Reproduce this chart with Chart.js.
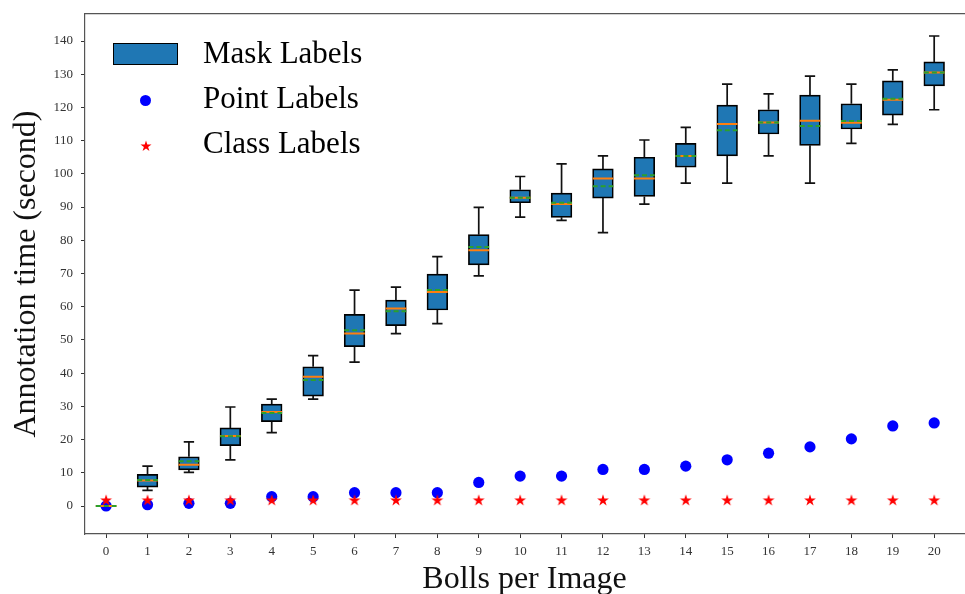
<!DOCTYPE html>
<html><head><meta charset="utf-8">
<script src="https://cdn.jsdelivr.net/npm/chart.js@4.4.0/dist/chart.umd.min.js"></script>
<style>
html,body{margin:0;padding:0;background:#fff;overflow:hidden;width:965px;height:594px}
#wrap{position:relative;width:965px;height:594px;overflow:hidden;background:#fff}
#c{position:absolute;left:0;top:0}
.lg{position:absolute;font-family:"Liberation Serif","Times New Roman",serif;font-size:31px;line-height:31px;color:#000;white-space:nowrap}
</style></head><body>
<div id="wrap">
<canvas id="c" width="972" height="594"></canvas>
<div style="position:absolute;left:113px;top:43px;width:65px;height:22px;background:#1f77b4;border:1px solid #000;box-sizing:border-box"></div>
<div class="lg" style="left:203px;top:37px">Mask Labels</div>
<div style="position:absolute;left:140px;top:94.5px;width:11px;height:11px;border-radius:50%;background:#0000ff"></div>
<div class="lg" style="left:203px;top:82px">Point Labels</div>
<svg style="position:absolute;left:139.7px;top:139.5px" width="12" height="12" viewBox="-6 -6 12 12"><polygon id="lstar" fill="#ff0000"/></svg>
<div class="lg" style="left:203px;top:127px">Class Labels</div>
</div>
<script>
const categories = ['0','1','2','3','4','5','6','7','8','9','10','11','12','13','14','15','16','17','18','19','20'];
const yTicks = [0,10,20,30,40,50,60,70,80,90,100,110,120,130,140];
const whiskerLow  = [0, 4.7, 10.1, 13.9, 22.1, 32.2, 43.3, 51.9, 54.9, 69.3, 87.0, 86.0, 82.3, 90.9, 97.2, 97.2, 105.4, 97.2, 109.2, 114.9, 119.3];
const q1          = [0, 5.7, 10.9, 18.2, 25.4, 33.1, 48.0, 54.3, 59.0, 72.6, 91.3, 86.9, 92.7, 93.2, 102.0, 105.4, 112.0, 108.6, 113.5, 117.7, 126.5];
const median      = [0, 7.7, 12.4, 21.1, 28.3, 38.9, 51.9, 59.5, 64.4, 77.0, 92.8, 90.9, 98.6, 98.6, 105.4, 115.0, 115.5, 116.0, 115.4, 122.3, 130.5];
const mean        = [0, 7.8, 13.5, 21.0, 28.0, 37.9, 52.9, 58.6, 65.0, 78.0, 92.8, 91.3, 96.3, 99.6, 105.4, 113.1, 115.5, 114.4, 115.9, 122.6, 130.5];
const q3          = [0, 9.5, 14.8, 23.5, 30.7, 41.9, 57.7, 62.0, 69.8, 81.7, 95.2, 94.2, 101.5, 105.0, 109.2, 120.7, 119.3, 123.7, 121.1, 128.0, 133.7];
const whiskerHigh = [0, 12.0, 19.3, 29.8, 32.2, 45.3, 65.0, 65.9, 75.1, 89.9, 99.2, 103.0, 105.4, 110.2, 114.0, 127.0, 124.1, 129.4, 127.0, 131.3, 141.5];
const pointLabels = [0, 0.4, 0.8, 0.8, 2.8, 2.8, 4.0, 4.0, 4.0, 7.1, 9.0, 9.0, 11.0, 11.0, 12.0, 13.9, 15.9, 17.8, 20.2, 24.1, 25.0];
const classLabels = [1.8, 1.8, 1.8, 1.8, 1.8, 1.8, 1.8, 1.8, 1.8, 1.8, 1.8, 1.8, 1.8, 1.8, 1.8, 1.8, 1.8, 1.8, 1.8, 1.8, 1.8];

function starPts(R, cx, cy) {
  const r = R * 0.381966, pts = [];
  for (let k = 0; k < 10; k++) {
    const a = -Math.PI / 2 + k * Math.PI / 5, rr = k % 2 ? r : R;
    pts.push([cx + rr * Math.cos(a), cy + rr * Math.sin(a)]);
  }
  return pts;
}
document.getElementById('lstar').setAttribute('points', starPts(5.8, 0, 0.4).map(p => p.join(',')).join(' '));
const starCanvas = document.createElement('canvas');
starCanvas.width = 14; starCanvas.height = 14;
(function () {
  const g = starCanvas.getContext('2d');
  g.fillStyle = '#ff0000';
  g.beginPath();
  starPts(6.2, 7, 7.5).forEach((p, k) => k ? g.lineTo(p[0], p[1]) : g.moveTo(p[0], p[1]));
  g.closePath(); g.fill();
})();

const X = categories.map(Number);
const boxData = X.map((x, i) => ({x, y: [q1[i], q3[i]]}));
const whiskerData = [], capData = [], medData = [], meanData = [];
X.forEach((x, i) => {
  whiskerData.push({x, y: whiskerHigh[i]}, {x, y: q3[i]}, {x, y: null}, {x, y: q1[i]}, {x, y: whiskerLow[i]}, {x, y: null});
  capData.push({x: x - 0.125, y: whiskerHigh[i]}, {x: x + 0.125, y: whiskerHigh[i]}, {x, y: null},
               {x: x - 0.125, y: whiskerLow[i]}, {x: x + 0.125, y: whiskerLow[i]}, {x, y: null});
  medData.push({x: x - 0.25, y: median[i]}, {x: x + 0.25, y: median[i]}, {x, y: null});
  meanData.push({x: x - 0.25, y: mean[i]}, {x: x + 0.25, y: mean[i]}, {x, y: null});
});
const pointData = X.map((x, i) => ({x, y: pointLabels[i]}));
const classData = X.map((x, i) => ({x, y: classLabels[i]}));

const serif = '"Liberation Serif", "Times New Roman", serif';
const axisColor = '#555';
const noPad = s => { s.paddingLeft = 0; s.paddingRight = 0; s.paddingTop = 0; s.paddingBottom = 0; };

new Chart(document.getElementById('c'), {
  type: 'bar',
  data: {
    datasets: [
      {type: 'bar', label: 'Mask Labels', data: boxData, backgroundColor: '#1f77b4', borderColor: '#000',
       borderWidth: 1.7, borderSkipped: false, barThickness: 20.7, grouped: false, order: 7},
      {type: 'line', data: whiskerData, borderColor: '#111', borderWidth: 1.7, pointRadius: 0, spanGaps: false, fill: false, order: 6},
      {type: 'line', data: capData, borderColor: '#111', borderWidth: 1.7, pointRadius: 0, spanGaps: false, fill: false, order: 5},
      {type: 'line', label: 'Point Labels', data: pointData, showLine: false, pointRadius: 5.6,
       pointBackgroundColor: '#0000ff', pointBorderWidth: 0, order: 4},
      {type: 'line', label: 'Class Labels', data: classData, showLine: false, pointStyle: starCanvas,
       pointRadius: 7, order: 3},
      {type: 'line', data: medData, borderColor: '#ff7f0e', borderWidth: 2, pointRadius: 0, spanGaps: false, fill: false, order: 2},
      {type: 'line', data: meanData, borderColor: '#2ca02c', borderWidth: 2, borderDash: [5, 3], pointRadius: 0, spanGaps: false, fill: false, order: 1}
    ]
  },
  options: {
    responsive: false, animation: false, events: [],
    layout: {padding: 0},
    plugins: {legend: {display: false}, tooltip: {enabled: false}},
    scales: {
      x: {
        type: 'linear', position: 'bottom', min: -0.51, max: 20.72, offset: false,
        afterBuildTicks: s => { s.ticks = X.map(v => ({value: v})); },
        afterFit: s => { s.height = 60; noPad(s); },
        ticks: {callback: (v, i) => categories[i], font: {family: serif, size: 13}, color: '#333',
                padding: 6, maxRotation: 0, autoSkip: false},
        grid: {offset: false, drawOnChartArea: false, drawTicks: true, tickLength: 4, tickColor: '#333', tickWidth: 1},
        border: {color: axisColor, width: 1.2},
        title: {display: true, text: 'Bolls per Image', font: {family: serif, size: 32}, color: '#111',
                padding: {top: 0, bottom: -5}}
      },
      xTop: {
        type: 'linear', position: 'top', min: -0.51, max: 20.72, offset: false,
        afterFit: s => { s.height = 14; noPad(s); },
        ticks: {display: false},
        grid: {offset: false, display: false, drawTicks: false},
        border: {display: true, color: axisColor, width: 1.2}
      },
      y: {
        type: 'linear', position: 'left', min: -8.43, max: 148.13,
        afterBuildTicks: s => { s.ticks = yTicks.map(v => ({value: v})); },
        afterFit: s => { s.width = 85; noPad(s); },
        ticks: {font: {family: serif, size: 13}, color: '#333', padding: 8},
        grid: {drawOnChartArea: false, drawTicks: true, tickLength: 4, tickColor: '#333', tickWidth: 1},
        border: {color: axisColor, width: 1.2},
        title: {display: true, text: 'Annotation time (second)', font: {family: serif, size: 32}, color: '#111',
                padding: {top: 7, bottom: 0}}
      }
    }
  }
});
</script>
</body></html>
